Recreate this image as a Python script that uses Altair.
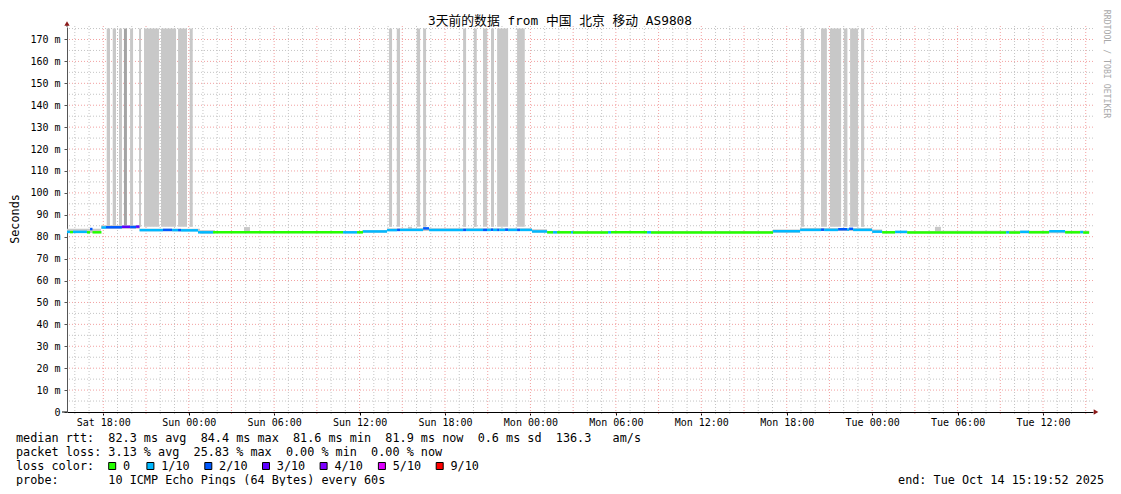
import altair as alt
import pandas as pd

FONT = "DejaVu Sans Mono, Noto Sans CJK SC, monospace"

# ---------------- text ----------------
TITLE = "3天前的数据 from 中国 北京 移动 AS9808"
Y_TITLE = "Seconds"
WATERMARK = "RRDTOOL / TOBI OETIKER"
STAT_LINES = [
    "median rtt:  82.3 ms avg  84.4 ms max  81.6 ms min  81.9 ms now  0.6 ms sd  136.3   am/s",
    "packet loss: 3.13 % avg  25.83 % max  0.00 % min  0.00 % now",
    "loss color:",
    "probe:       10 ICMP Echo Pings (64 Bytes) every 60s",
]
END_LABEL = "end: Tue Oct 14 15:19:52 2025"

# ---------------- time frame ----------------
START = "2025-10-11T15:19:52Z"
DOMAIN_H = [0.12, 72.18]          # hours after START shown in plot
Y_MAX = 175.7
X_LABEL_TIMES = ["2025-10-11T18:00:00Z", "2025-10-12T00:00:00Z", "2025-10-12T06:00:00Z",
                 "2025-10-12T12:00:00Z", "2025-10-12T18:00:00Z", "2025-10-13T00:00:00Z",
                 "2025-10-13T06:00:00Z", "2025-10-13T12:00:00Z", "2025-10-13T18:00:00Z",
                 "2025-10-14T00:00:00Z", "2025-10-14T06:00:00Z", "2025-10-14T12:00:00Z"]
X_LABEL_FORMAT = "%a %H:%M"
GRID_FIRST = "2025-10-11T16:00:00Z"
GRID_LAST = "2025-10-14T15:00:00Z"
Y_TICKS = list(range(0, 171, 10))
Y_GRID = list(range(5, 176, 5))

# ---------------- loss legend ----------------
LOSS_LABELS = ["0", "1/10", "2/10", "3/10", "4/10", "5/10", "9/10"]
LOSS_COLORS = ["#26ff00", "#00b8ff", "#0059ff", "#5e00ff", "#7e00ff", "#dd00ff", "#ff0000"]

# ---------------- median rtt (hours after START, ms, loss index) ----------------
SEG_START_H = [0.12, 0.33, 0.54, 1.52, 1.74, 1.91, 2.54, 2.86, 3.98, 4.55,
               4.97, 5.21, 6.86, 7.50, 7.92, 8.13, 9.32, 10.38, 19.51, 20.49,
               20.91, 22.60, 23.30, 23.51, 25.13, 25.55, 27.94, 28.15, 29.34, 29.62,
               29.90, 30.04, 30.33, 30.47, 30.89, 31.10, 31.73, 31.94, 32.78, 33.84,
               34.26, 34.54, 35.52, 35.66, 38.12, 38.33, 40.86, 41.14, 49.71, 51.61,
               53.08, 53.30, 54.28, 54.91, 55.05, 55.33, 56.67, 57.37, 58.28, 59.13,
               66.08, 66.29, 67.06, 67.69, 69.10, 70.22, 71.28, 71.49]
SEG_END_H = 71.91
SEG_MEDIAN = [82.2, 82.1, 82.2, 82.0, 83.5, 82.0, 84.2, 84.3, 84.5, 84.4,
              84.6, 83.0, 83.1, 83.0, 83.0, 82.9, 82.0, 82.0, 82.0, 82.0,
              82.4, 83.0, 83.1, 83.1, 83.8, 83.1, 83.1, 83.1, 83.1, 83.1,
              83.2, 83.1, 83.1, 83.1, 83.2, 83.1, 83.1, 83.1, 82.4, 82.0,
              82.0, 82.0, 82.0, 81.9, 82.0, 82.0, 82.0, 81.9, 82.5, 83.1,
              83.2, 83.1, 83.4, 83.2, 83.6, 83.1, 82.3, 82.0, 82.2, 81.9,
              82.0, 81.9, 82.2, 82.0, 82.5, 82.0, 82.1, 81.9]
SEG_LOSS = [1, 0, 1, 0, 2, 0, 1, 2, 3, 2,
            3, 1, 2, 1, 2, 1, 1, 0, 1, 0,
            1, 1, 2, 1, 2, 1, 2, 1, 2, 1,
            2, 1, 2, 1, 2, 1, 2, 1, 1, 0,
            1, 0, 1, 0, 1, 0, 1, 0, 1, 1,
            2, 1, 2, 1, 2, 1, 1, 0, 1, 0,
            1, 0, 1, 0, 1, 0, 1, 0]

# ---------------- smoke (ping spread) ----------------
SMOKE_START_H = [0.12, 2.51, 5.25, 9.46, 10.51, 12.55, 12.97, 20.84, 22.59, 24.07,
                 24.35, 32.78, 33.83, 49.70, 51.60, 56.66, 57.37, 61.08, 61.50]
SMOKE_LO = [81.7, 83.6, 82.5, 81.4, 81.6, 81.6, 81.6, 81.8, 82.6, 82.6,
            82.6, 81.8, 81.6, 81.8, 82.6, 81.8, 81.6, 81.6, 81.6]
SMOKE_HI = [83.6, 85.2, 83.6, 83.0, 82.6, 84.4, 82.6, 83.0, 83.8, 84.5,
            83.8, 83.4, 82.6, 83.3, 84.0, 83.3, 82.6, 84.5, 82.7]

# ---------------- lost-ping smoke (bars up to the top) ----------------
BAR_START_H = [2.91, 3.33, 3.77, 4.12, 4.55, 5.18, 5.53, 6.72, 7.92, 8.74,
               22.74, 23.28, 24.68, 25.13, 27.94, 28.69, 29.34, 29.90, 30.33, 31.73,
               51.66, 53.08, 53.70, 54.68, 55.12, 55.89]
BAR_END_H = [3.14, 3.56, 3.98, 4.33, 4.76, 5.32, 6.58, 7.78, 8.55, 8.95,
             22.95, 23.51, 24.92, 25.34, 28.15, 28.90, 29.64, 30.11, 31.10, 32.27,
             51.89, 53.49, 54.49, 54.93, 55.68, 56.11]
BAR_LEVEL = [1, 1, 1, 2, 1, 1, 1, 1, 1, 1,
             1, 1, 1, 1, 1, 1, 1, 1, 1, 1,
             1, 1, 1, 1, 1, 1]
BAR_LO = 84.5
BAR_HI = 175.0
BAR_SHADES = {1: "#c8c8c8", 2: "#a4a4a4"}

# ---------------- layout (pixels) ----------------
W, H = 1026, 385
PAD = {"left": 59, "top": 19, "right": 20, "bottom": 74}
LEGEND_SQ_X = [45.2, 83.4, 141.3, 199.0, 256.6, 314.9, 372.7]
LINE_Y = [411, 425, 439, 453]

start_ms = pd.Timestamp(START).value // 10**6


def ms(h):
    return start_ms + h * 3600000.0


def ts(s):
    return pd.Timestamp(s).value // 10**6


XS = alt.Scale(type="utc", domain=[ms(DOMAIN_H[0]), ms(DOMAIN_H[1])])
YS = alt.Scale(domain=[0, Y_MAX], nice=False, zero=False)

XAX = alt.Axis(
    values=[ts(s) for s in X_LABEL_TIMES],
    labelExpr="utcFormat(datum.value, '%s')" % X_LABEL_FORMAT,
    title=None, grid=False, labelFont=FONT, labelFontSize=10, labelColor="#000",
    tickColor="#000", tickSize=3, labelPadding=2, domainColor="#000",
    domainWidth=1, labelFlush=False, labelOverlap=False, labelBound=False)
YAX = alt.Axis(
    values=Y_TICKS,
    labelExpr="datum.value == 0 ? '0\u00a0\u00a0' : datum.value + '\u00a0m'",
    title=None, grid=False, labelFont=FONT, labelFontSize=10, labelColor="#000",
    tickColor="#555", tickSize=3, labelPadding=4, domainColor="#555",
    domainWidth=1, labelFlush=False, labelOverlap=False, labelBound=False)

seg_df = pd.DataFrame({
    "t0": [ms(h) for h in SEG_START_H],
    "t1": [ms(h) for h in SEG_START_H[1:] + [SEG_END_H]],
    "v": SEG_MEDIAN,
    "c": [LOSS_COLORS[i] for i in SEG_LOSS],
})
smoke_df = pd.DataFrame({
    "t0": [ms(h) for h in SMOKE_START_H],
    "t1": [ms(h) for h in SMOKE_START_H[1:] + [SEG_END_H]],
    "lo": SMOKE_LO,
    "hi": SMOKE_HI,
})
bar_df = pd.DataFrame({
    "t0": [ms(h) for h in BAR_START_H],
    "t1": [ms(h) for h in BAR_END_H],
    "lo": [BAR_LO] * len(BAR_START_H),
    "hi": [BAR_HI] * len(BAR_START_H),
    "c": [BAR_SHADES[k] for k in BAR_LEVEL],
})

grid_times = pd.date_range(GRID_FIRST, GRID_LAST, freq="h")
vgrid_df = pd.DataFrame({"t": [t.value // 10**6 for t in grid_times],
                         "major": [t.hour % 3 == 0 for t in grid_times]})
hgrid_df = pd.DataFrame({"v": Y_GRID, "major": [v % 10 == 0 for v in Y_GRID]})

GRID_GRAY = "#c4c4c4"
GRID_RED = "#f2a0a0"

hgrid_minor = alt.Chart(hgrid_df[~hgrid_df.major]).mark_rule(
    color=GRID_GRAY, strokeDash=[1, 2], strokeWidth=1).encode(
    y=alt.Y("v:Q", scale=YS, axis=YAX))
hgrid_major = alt.Chart(hgrid_df[hgrid_df.major]).mark_rule(
    color=GRID_RED, strokeDash=[1, 2], strokeWidth=1).encode(
    y=alt.Y("v:Q", scale=YS, axis=YAX))
vgrid_minor = alt.Chart(vgrid_df[~vgrid_df.major]).mark_rule(
    color=GRID_GRAY, strokeDash=[1, 2], strokeWidth=1).encode(
    x=alt.X("t:T", scale=XS, axis=XAX), y=alt.value(-1), y2=alt.value(H + 2))
vgrid_major = alt.Chart(vgrid_df[vgrid_df.major]).mark_rule(
    color=GRID_RED, strokeDash=[1, 2], strokeWidth=1).encode(
    x=alt.X("t:T", scale=XS, axis=XAX), y=alt.value(-1), y2=alt.value(H + 3))

bars = alt.Chart(bar_df).mark_rect().encode(
    x=alt.X("t0:T", scale=XS, axis=XAX), x2="t1:T",
    y=alt.Y("lo:Q", scale=YS, axis=YAX), y2="hi:Q",
    color=alt.Color("c:N", scale=None))

smoke = alt.Chart(smoke_df).mark_rect(color="#c8c8c8").encode(
    x=alt.X("t0:T", scale=XS, axis=XAX), x2="t1:T",
    y=alt.Y("lo:Q", scale=YS, axis=YAX), y2="hi:Q")

median = alt.Chart(seg_df).mark_rule(strokeWidth=2.5, strokeCap="butt").encode(
    x=alt.X("t0:T", scale=XS, axis=XAX), x2="t1:T",
    y=alt.Y("v:Q", scale=YS, axis=YAX),
    color=alt.Color("c:N", scale=None))


def text_layer(s, x, y, **kw):
    df = pd.DataFrame({"s": [s.replace(" ", "\u00a0")]})
    opts = dict(font=FONT, fontSize=11.8, color="#000", align="left", baseline="middle")
    opts.update(kw)
    return alt.Chart(df).mark_text(**opts).encode(
        text="s:N", x=alt.value(x), y=alt.value(y))


texts = [
    text_layer(TITLE, 493, -6, align="center", fontSize=12.8),
    text_layer(Y_TITLE, -52.5, 192, align="center", angle=270),
    text_layer(WATERMARK, 1038.5, 37, align="center", angle=90, fontSize=8.2, color="#a8a8a8"),
]
for line, yy in zip(STAT_LINES, LINE_Y):
    texts.append(text_layer(line, -51, yy))
texts.append(text_layer(END_LABEL, 1037, LINE_Y[3], align="right"))

legend_df = pd.DataFrame({"label": LOSS_LABELS, "color": LOSS_COLORS,
                          "sx": LEGEND_SQ_X, "lx": [x + 10.8 for x in LEGEND_SQ_X]})
legend_sq = alt.Chart(legend_df).mark_square(size=49, filled=True, stroke="#000",
                                             strokeWidth=1, opacity=1).encode(
    x=alt.X("sx:Q", scale=None), y=alt.value(LINE_Y[2]),
    fill=alt.Fill("color:N", scale=None))
legend_tx = alt.Chart(legend_df).mark_text(font=FONT, fontSize=11.8, align="left",
                                           baseline="middle", color="#000").encode(
    x=alt.X("lx:Q", scale=None), y=alt.value(LINE_Y[2]), text="label:N")

ARROW = "#8b1a1a"
y_ext = alt.Chart(pd.DataFrame({"a": [0]})).mark_rule(color="#555").encode(
    x=alt.value(0), y=alt.value(-3), y2=alt.value(0))
x_ext = alt.Chart(pd.DataFrame({"a": [0]})).mark_rule(color="#000").encode(
    x=alt.value(-5), x2=alt.value(0), y=alt.value(H))
arrow_up = alt.Chart(pd.DataFrame({"a": [0]})).mark_point(
    shape="triangle-up", filled=True, size=28, color=ARROW, opacity=1).encode(
    x=alt.value(0), y=alt.value(-3.5))
arrow_right = alt.Chart(pd.DataFrame({"a": [0]})).mark_point(
    shape="triangle-right", filled=True, size=28, color=ARROW, opacity=1).encode(
    x=alt.value(W + 3), y=alt.value(H))

chart = alt.layer(
    hgrid_minor, hgrid_major, vgrid_minor, vgrid_major,
    bars, smoke, median,
    y_ext, x_ext, arrow_up, arrow_right,
    legend_sq, legend_tx, *texts,
).properties(
    width=W, height=H, padding=PAD,
    autosize=alt.AutoSizeParams(type="none"),
    background="#ffffff",
).configure_view(strokeWidth=0)

chart.save("out.html", embed_options={"renderer": "svg", "actions": False})
